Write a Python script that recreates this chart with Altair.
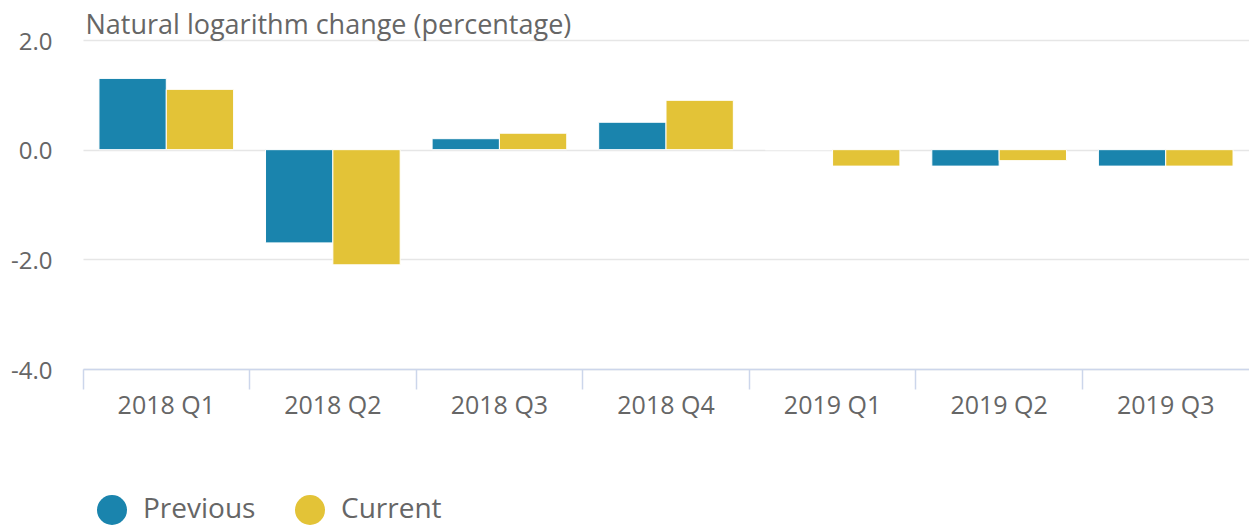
import altair as alt
import pandas as pd

quarters = ["2018 Q1", "2018 Q2", "2018 Q3", "2018 Q4", "2019 Q1", "2019 Q2", "2019 Q3"]
previous = [1.3, -1.7, 0.2, 0.5, 0.0, -0.3, -0.3]
current = [1.1, -2.1, 0.3, 0.9, -0.3, -0.2, -0.3]
series_names = ["Previous", "Current"]
series_colors = ["#1a84ad", "#e3c337"]
y_ticks = [-4, -2, 0, 2]

rows = []
for q, p, c in zip(quarters, previous, current):
    rows.append({"quarter": q, "series": "Previous", "value": p})
    rows.append({"quarter": q, "series": "Current", "value": c})
df = pd.DataFrame(rows)

FONT = "Open Sans"
W, H = 1166, 329

chart = alt.Chart(df).mark_bar(stroke="white", strokeWidth=1).encode(
    x=alt.X(
        "quarter:N",
        sort=quarters,
        scale=alt.Scale(paddingInner=0, paddingOuter=0),
        axis=alt.Axis(
            title=None,
            bandPosition=0,
            labelAngle=0,
            labelFont=FONT,
            labelFontSize=25,
            labelColor="#666666",
            labelPadding=4,
            tickSize=20,
            tickColor="#ccd6eb",
            tickWidth=1.5,
            domainColor="#ccd6eb",
            domainWidth=1.5,
            grid=False,
        ),
    ),
    xOffset=alt.XOffset(
        "series:N",
        sort=series_names,
        scale=alt.Scale(paddingInner=0, paddingOuter=0.237),
    ),
    y=alt.Y(
        "value:Q",
        scale=alt.Scale(domain=[-4, 2], nice=False),
        axis=alt.Axis(
            values=y_ticks,
            labelExpr="datum.value < 0 ? '-' + format(-datum.value, '.1f') : format(datum.value, '.1f')",
            title="Natural logarithm change (percentage)",
            titleAngle=0,
            titleAlign="left",
            titleBaseline="alphabetic",
            titleX=2,
            titleY=-7,
            titleFont=FONT,
            titleFontSize=27,
            titleFontWeight="normal",
            titleColor="#666666",
            labelFont=FONT,
            labelFontSize=24,
            labelColor="#666666",
            labelPadding=31,
            labelOffset=2,
            ticks=False,
            domain=False,
            gridColor="#e6e6e6",
            gridWidth=1.5,
        ),
    ),
    color=alt.Color(
        "series:N",
        sort=series_names,
        scale=alt.Scale(domain=series_names, range=series_colors),
        legend=alt.Legend(
            title=None,
            orient="none",
            legendX=14,
            legendY=455,
            direction="horizontal",
            symbolType="circle",
            symbolSize=900,
            symbolStrokeWidth=0,
            labelFont=FONT,
            labelFontSize=28,
            labelColor="#666666",
            labelOffset=16,
            columnPadding=39,
        ),
    ),
).properties(
    width=W,
    height=H,
    padding={"left": 83, "top": 40, "right": 0, "bottom": 156},
    autosize=alt.AutoSizeParams(type="none"),
).configure_view(stroke=None)

chart.save("out.html", embed_options={"renderer": "svg", "actions": False})
